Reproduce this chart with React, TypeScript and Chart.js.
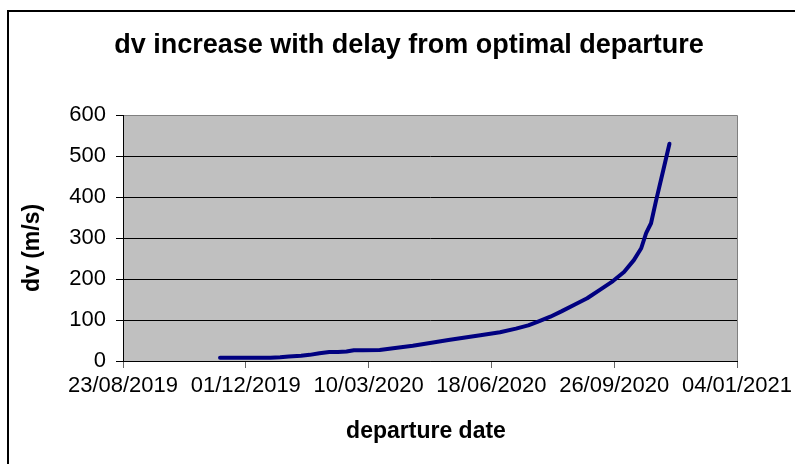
import React, { useEffect, useRef } from 'react';
import { Chart, registerables } from 'chart.js';

Chart.register(...registerables);

const CHART_TITLE = 'dv increase with delay from optimal departure';
const X_TITLE = 'departure date';
const Y_TITLE = 'dv (m/s)';
const AXIS_START = '23/08/2019';

const departureDates = [
  '10/11/2019', '21/11/2019', '01/12/2019', '11/12/2019', '21/12/2019', '29/12/2019',
  '05/01/2020', '15/01/2020', '22/01/2020', '30/01/2020', '07/02/2020', '14/02/2020',
  '21/02/2020', '27/02/2020', '05/03/2020', '19/03/2020', '30/03/2020', '15/04/2020',
  '29/04/2020', '14/05/2020', '29/05/2020', '09/06/2020', '25/06/2020', '08/07/2020',
  '18/07/2020', '26/07/2020', '05/08/2020', '14/08/2020', '25/08/2020', '04/09/2020',
  '14/09/2020', '25/09/2020', '04/10/2020', '12/10/2020', '18/10/2020', '22/10/2020',
  '26/10/2020', '30/10/2020', '05/11/2020', '10/11/2020',
];

const dvValues = [
  8, 8, 8, 8, 8, 9,
  11, 13, 15, 19, 22, 22,
  23, 26, 26, 27, 31, 37,
  44, 51, 58, 63, 70, 79,
  87, 96, 108, 121, 138, 153,
  173, 195, 217, 246, 275, 312,
  336, 390, 466, 530,
];

const DAY_MS = 86400000;

function parseDate(s: string): number {
  const [d, m, y] = s.split('/').map(Number);
  return Date.UTC(y, m - 1, d);
}

function formatDays(days: number): string {
  const dt = new Date(parseDate(AXIS_START) + Math.round(days) * DAY_MS);
  const dd = String(dt.getUTCDate()).padStart(2, '0');
  const mm = String(dt.getUTCMonth() + 1).padStart(2, '0');
  return `${dd}/${mm}/${dt.getUTCFullYear()}`;
}

const FONT = '"Liberation Sans", Arial, sans-serif';

const plotBackground = {
  id: 'plotBackground',
  beforeDraw(chart: any) {
    const { ctx, chartArea } = chart;
    if (!chartArea) return;
    ctx.save();
    ctx.fillStyle = '#C0C0C0';
    ctx.fillRect(chartArea.left, chartArea.top, chartArea.right - chartArea.left, chartArea.bottom - chartArea.top);
    ctx.strokeStyle = '#808080';
    ctx.lineWidth = 1;
    ctx.beginPath();
    ctx.moveTo(chartArea.left, chartArea.top + 0.5);
    ctx.lineTo(chartArea.right + 0.5, chartArea.top + 0.5);
    ctx.lineTo(chartArea.right + 0.5, chartArea.bottom);
    ctx.stroke();
    ctx.restore();
  },
};

// Figure and axis titles, placed like the Excel chart frame
const figureTitles = {
  id: 'figureTitles',
  afterDraw(chart: any) {
    const { ctx } = chart;
    ctx.save();
    ctx.fillStyle = '#000';
    ctx.textAlign = 'center';
    ctx.textBaseline = 'middle';
    ctx.font = `bold 27px ${FONT}`;
    ctx.fillText(CHART_TITLE, 409, 46);
    ctx.font = `bold 23px ${FONT}`;
    ctx.fillText(X_TITLE, 426, 432);
    ctx.translate(33, 248);
    ctx.rotate(-Math.PI / 2);
    ctx.fillText(Y_TITLE, 0, 0);
    ctx.restore();
  },
};

export default function App() {
  const canvasRef = useRef<HTMLCanvasElement | null>(null);

  useEffect(() => {
    document.body.style.overflow = 'hidden';
    const canvas = canvasRef.current;
    if (!canvas) return;
    const origin = parseDate(AXIS_START);
    const points = departureDates.map((d, i) => ({
      x: (parseDate(d) - origin) / DAY_MS,
      y: dvValues[i],
    }));

    const chart = new Chart(canvas, {
      type: 'line',
      data: {
        datasets: [
          {
            data: points,
            borderColor: '#000080',
            borderWidth: 4,
            pointRadius: 0,
            borderCapStyle: 'round',
            borderJoinStyle: 'round',
            tension: 0,
            fill: false,
          },
        ],
      },
      options: {
        animation: false,
        responsive: false,
        maintainAspectRatio: false,
        layout: { padding: { left: 0, right: 81, top: 115, bottom: 0 } },
        plugins: {
          legend: { display: false },
          tooltip: { enabled: false },
          title: { display: false },
        },
        scales: {
          x: {
            type: 'linear',
            min: 0,
            max: 500,
            afterFit: (s: any) => {
              s.height = 103;
            },
            ticks: {
              stepSize: 100,
              autoSkip: false,
              maxRotation: 0,
              minRotation: 0,
              padding: 5,
              color: '#000',
              font: { family: FONT, size: 22 },
              callback: (v: any) => formatDays(Number(v)),
            },
            grid: {
              drawOnChartArea: false,
              drawTicks: true,
              tickLength: 7,
              tickColor: '#666',
            },
            border: { display: true, color: '#000', width: 1 },
            title: { display: false },
          },
          y: {
            type: 'linear',
            min: 0,
            max: 600,
            afterFit: (s: any) => {
              s.width = 123;
            },
            ticks: {
              stepSize: 100,
              padding: 10,
              color: '#000',
              font: { family: FONT, size: 22 },
            },
            grid: {
              color: (c: any) => (c.tick && c.tick.value === 600 ? '#808080' : '#000'),
              lineWidth: 1,
              drawTicks: true,
              tickLength: 7,
              tickColor: '#000',
            },
            border: { display: true, color: '#000', width: 1 },
            title: { display: false },
          },
        },
      },
      plugins: [plotBackground, figureTitles],
    } as any);

    return () => {
      chart.destroy();
    };
  }, []);

  return (
    <div>
      <div
        style={{
          position: 'fixed',
          left: 7,
          top: 10,
          right: 0,
          bottom: 0,
          borderLeft: '2px solid #000',
          borderTop: '2px solid #000',
          background: '#fff',
        }}
      />
      <div style={{ position: 'fixed', left: 0, top: 0, width: 818, height: 464 }}>
        <canvas ref={canvasRef} width={818} height={464} style={{ width: 818, height: 464, display: 'block' }} />
      </div>
    </div>
  );
}
